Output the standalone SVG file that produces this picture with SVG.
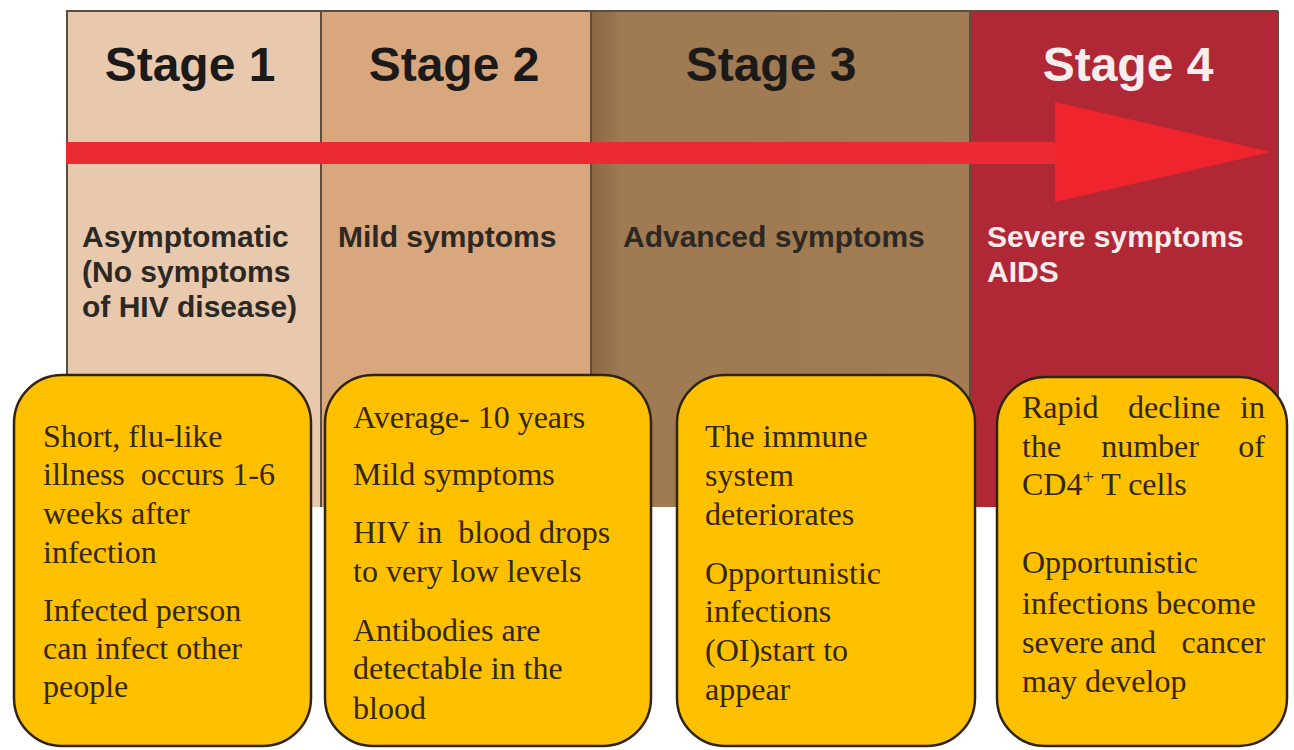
<svg xmlns="http://www.w3.org/2000/svg" width="1294" height="750" viewBox="0 0 1294 750">
  <defs>
    <linearGradient id="col3grad" x1="0" y1="0" x2="1" y2="0">
      <stop offset="0" stop-color="#8a6644"/>
      <stop offset="0.08" stop-color="#9f7a52"/>
      <stop offset="1" stop-color="#a27c52"/>
    </linearGradient>
    <style>
      .hdr { font-family: "Liberation Sans", Arial, sans-serif; font-weight: bold; font-size: 48px; text-anchor: middle; fill: #1c1a18; }
      .hdr-w { fill: #f7eded; }
      .desc { font-family: "Liberation Sans", Arial, sans-serif; font-weight: bold; font-size: 30px; fill: #2c2824; }
      .desc-w { fill: #f7eaea; }
      .div { stroke: #5b4d40; stroke-width: 2; }
      .box { fill: #ffc000; stroke: #2f2412; stroke-width: 2.5; }
      .bt { font-family: "Liberation Serif", "Times New Roman", serif; font-size: 32px; fill: #33270c; white-space: pre; }
    </style>
  </defs>
  <rect width="1294" height="750" fill="#ffffff"/>

  <g id="stage1">
    <rect x="67" y="11" width="254" height="496" fill="#e9c9ad"/>
    <text class="hdr" x="190" y="81">Stage 1</text>
    <text class="desc" x="82" y="247">Asymptomatic</text>
    <text class="desc" x="82" y="282">(No symptoms</text>
    <text class="desc" x="82" y="317">of HIV disease)</text>
  </g>
  <g id="stage2">
    <rect x="321" y="11" width="270" height="496" fill="#d9a77e"/>
    <text class="hdr" x="454" y="81">Stage 2</text>
    <text class="desc" x="338" y="247">Mild symptoms</text>
  </g>
  <g id="stage3">
    <rect x="591" y="11" width="379" height="496" fill="url(#col3grad)"/>
    <text class="hdr" x="771" y="81">Stage 3</text>
    <text class="desc" x="623" y="247">Advanced symptoms</text>
  </g>
  <g id="stage4">
    <rect x="970" y="11" width="308" height="496" fill="#b02835"/>
    <text class="hdr hdr-w" x="1128" y="81">Stage 4</text>
    <text class="desc desc-w" x="987" y="247">Severe symptoms</text>
    <text class="desc desc-w" x="987" y="282">AIDS</text>
  </g>

  <g id="frame">
    <line class="div" x1="66" y1="11" x2="1278" y2="11"/>
    <line class="div" x1="67" y1="11" x2="67" y2="507"/>
    <line class="div" x1="321" y1="11" x2="321" y2="507"/>
    <line class="div" x1="591" y1="11" x2="591" y2="507"/>
    <line class="div" x1="970" y1="11" x2="970" y2="507"/>
    <line class="div" x1="1278" y1="11" x2="1278" y2="507"/>
  </g>

  <g id="connectors">
    <rect x="66" y="142" width="1000" height="22" fill="#ec2a33"/>
    <polygon points="1055,102 1271,152 1055,202" fill="#f0242c"/>
  </g>

  <g id="box1">
    <rect class="box" x="14" y="375" width="297" height="371" rx="48" ry="48"/>
    <text class="bt" x="43" y="447">Short, flu-like</text>
    <text class="bt" x="43" y="485">illness  occurs 1-6</text>
    <text class="bt" x="43" y="524">weeks after</text>
    <text class="bt" x="43" y="563">infection</text>
    <text class="bt" x="43" y="621">Infected person</text>
    <text class="bt" x="43" y="659">can infect other</text>
    <text class="bt" x="43" y="697">people</text>
  </g>
  <g id="box2">
    <rect class="box" x="325" y="375" width="326" height="371" rx="48" ry="48"/>
    <text class="bt" x="353" y="428">Average- 10 years</text>
    <text class="bt" x="353" y="485">Mild symptoms</text>
    <text class="bt" x="353" y="543">HIV in  blood drops</text>
    <text class="bt" x="353" y="582">to very low levels</text>
    <text class="bt" x="353" y="641">Antibodies are</text>
    <text class="bt" x="353" y="679">detectable in the</text>
    <text class="bt" x="353" y="719">blood</text>
  </g>
  <g id="box3">
    <rect class="box" x="677" y="375" width="298" height="371" rx="48" ry="48"/>
    <text class="bt" x="705" y="447">The immune</text>
    <text class="bt" x="705" y="486">system</text>
    <text class="bt" x="705" y="525">deteriorates</text>
    <text class="bt" x="705" y="584">Opportunistic</text>
    <text class="bt" x="705" y="622">infections</text>
    <text class="bt" x="705" y="661">(OI)start to</text>
    <text class="bt" x="705" y="700">appear</text>
  </g>
  <g id="box4">
    <rect class="box" x="997" y="377" width="290" height="369" rx="48" ry="48"/>
    <text class="bt" y="418"><tspan x="1022">Rapid</tspan><tspan x="1128">decline</tspan><tspan x="1265" text-anchor="end">in</tspan></text>
    <text class="bt" y="457"><tspan x="1022">the</tspan><tspan x="1150" text-anchor="middle">number</tspan><tspan x="1265" text-anchor="end">of</tspan></text>
    <text class="bt" x="1022" y="495">CD4<tspan font-size="20" baseline-shift="super">+</tspan> T cells</text>
    <text class="bt" x="1022" y="573">Opportunistic</text>
    <text class="bt" x="1022" y="614">infections become</text>
    <text class="bt" y="653"><tspan x="1022">severe</tspan><tspan x="1133" text-anchor="middle">and</tspan><tspan x="1265" text-anchor="end">cancer</tspan></text>
    <text class="bt" x="1022" y="692">may develop</text>
  </g>
</svg>
